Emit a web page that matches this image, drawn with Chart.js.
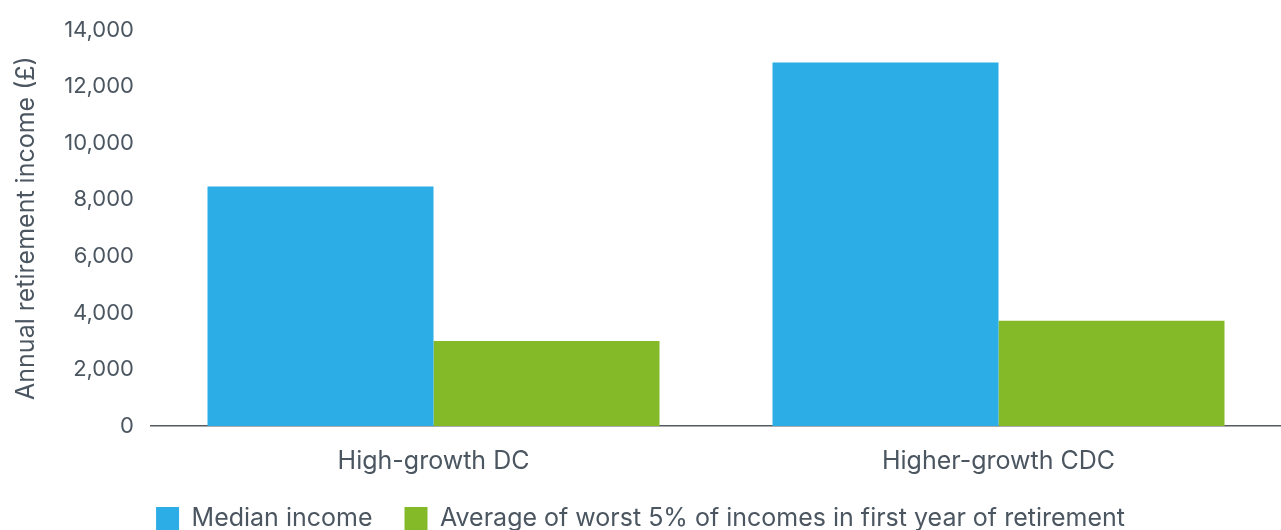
<!DOCTYPE html>
<html>
<head>
<meta charset="utf-8">
<script src="https://cdn.jsdelivr.net/npm/chart.js@4/dist/chart.umd.min.js"></script>
<style>
  html, body { margin: 0; padding: 0; background: #fff; overflow: hidden; }
  body { width: 1281px; height: 530px; }
  .wrap { position: relative; width: 1281px; height: 541px; }
</style>
</head>
<body>
<div class="wrap"><canvas id="incomeChart"></canvas></div>
<script>
// schemes compared
const categories = ['High-growth DC', 'Higher-growth CDC'];
// annual retirement income, £
const medianIncome = [8470, 12860];
const worst5Income = [3010, 3720];
const yTicks = [0, 2000, 4000, 6000, 8000, 10000, 12000, 14000];

const textColor = '#4b5661';
const fontFamily = 'Inter, Lato, sans-serif';

const ctx = document.getElementById('incomeChart').getContext('2d');
const incomeChart = new Chart(ctx, {
  type: 'bar',
  data: {
    labels: categories,
    datasets: [
      {
        label: 'Median income',
        data: medianIncome,
        backgroundColor: '#2cade5',
        borderWidth: 0,
        categoryPercentage: 0.8,
        barPercentage: 1.0
      },
      {
        label: 'Average of worst 5% of incomes in first year of retirement',
        data: worst5Income,
        backgroundColor: '#84ba28',
        borderWidth: 0,
        categoryPercentage: 0.8,
        barPercentage: 1.0
      }
    ]
  },
  options: {
    responsive: true,
    maintainAspectRatio: false,
    animation: false,
    layout: { autoPadding: false, padding: { top: 26, right: 0, left: 0, bottom: 0 } },
    plugins: {
      tooltip: { enabled: false },
      legend: {
        position: 'bottom',
        labels: {
          color: textColor,
          boxWidth: 23,
          boxHeight: 23,
          padding: 32,
          font: { family: fontFamily, size: 25 }
        }
      }
    },
    scales: {
      x: {
        afterFit: (scale) => { scale.height = 48; },
        grid: { display: false, drawTicks: false },
        border: { display: true, color: '#555b60', width: 1.5 },
        ticks: {
          color: textColor,
          padding: 23,
          font: { family: fontFamily, size: 25, lineHeight: 1 }
        }
      },
      y: {
        min: 0,
        max: 14000,
        afterBuildTicks: (scale) => {
          scale.ticks = yTicks.map(v => ({ value: v }));
        },
        afterFit: (scale) => { scale.width = 151; },
        grid: { display: false, drawTicks: false },
        border: { display: false },
        ticks: {
          color: textColor,
          padding: 17,
          font: { family: fontFamily, size: 22 },
          callback: (v) => Number(v).toLocaleString('en-GB')
        },
        title: {
          display: true,
          text: 'Annual retirement income (£)',
          color: textColor,
          padding: { top: 11, bottom: 4 },
          font: { family: fontFamily, size: 25 }
        }
      }
    }
  }
});
</script>
</body>
</html>
